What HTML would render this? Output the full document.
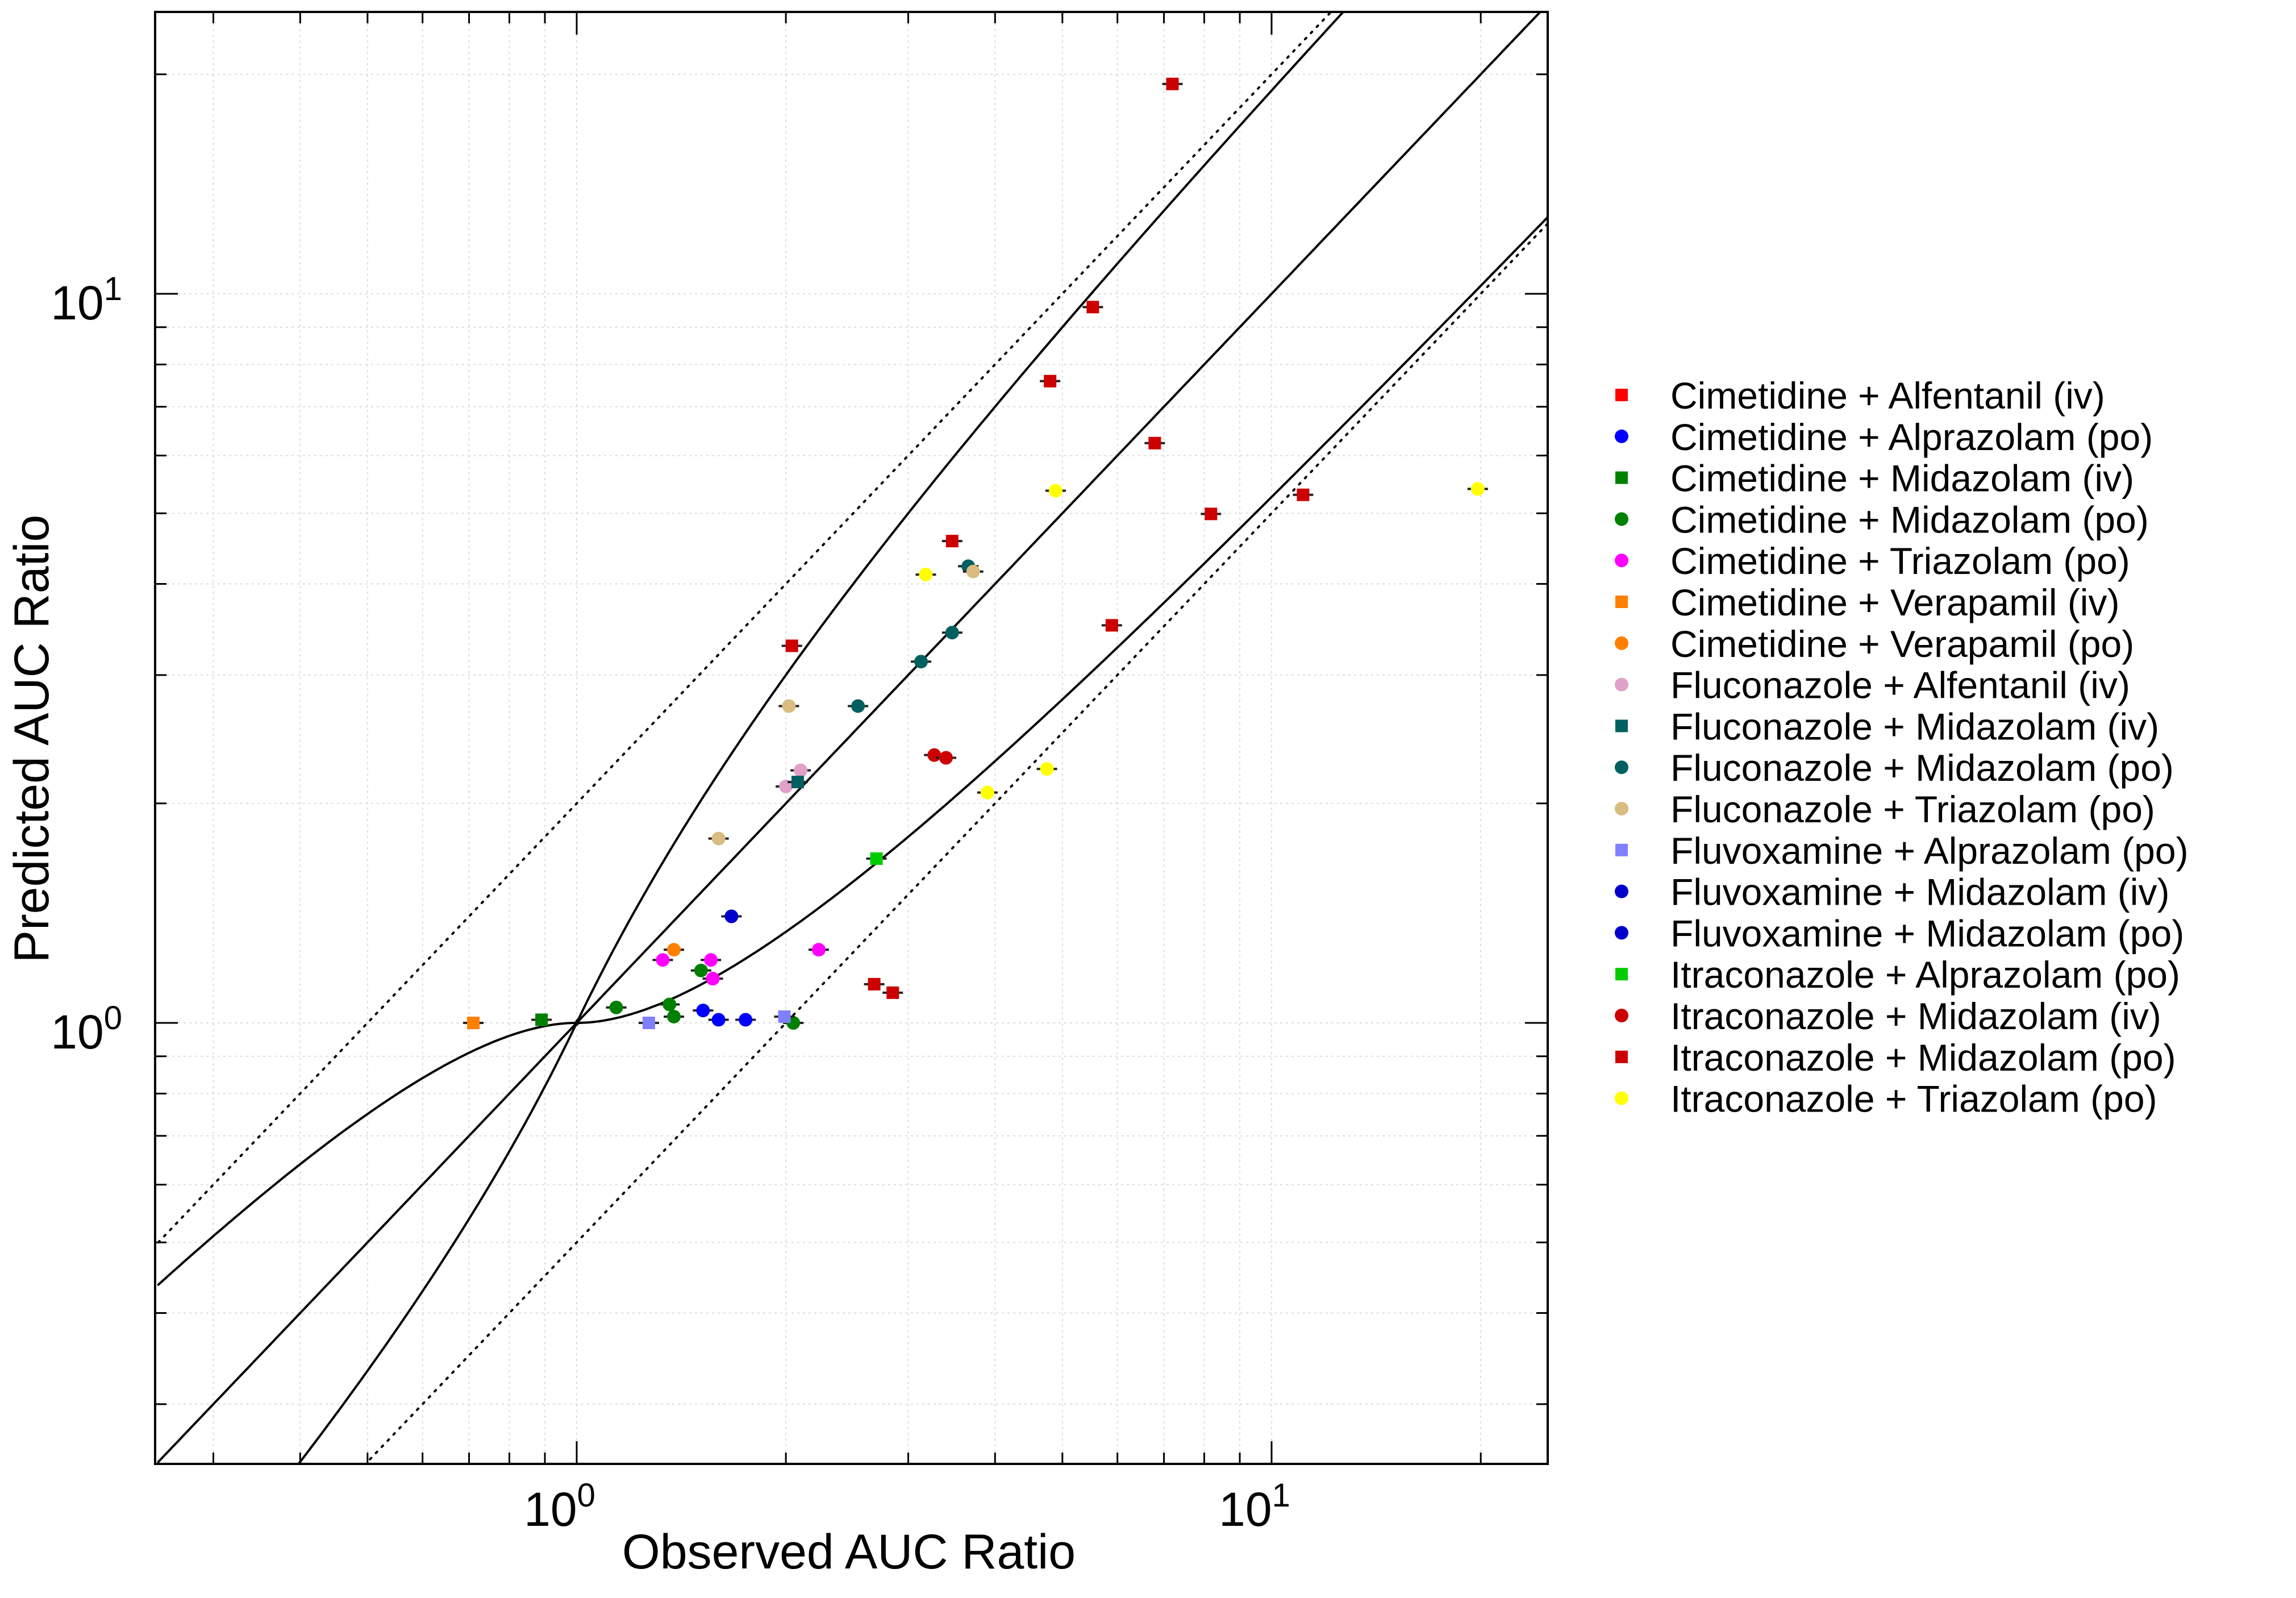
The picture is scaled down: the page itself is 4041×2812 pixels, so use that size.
<!DOCTYPE html>
<html><head><meta charset="utf-8"><style>
html,body{margin:0;padding:0;background:#fff;width:4041px;height:2812px;overflow:hidden;}
svg{display:block;font-family:"Liberation Sans","DejaVu Sans",sans-serif;}
</style></head><body>
<svg id="chart" xmlns="http://www.w3.org/2000/svg" width="4041" height="2812" viewBox="0 0 4041 2812">
<rect width="4041" height="2812" fill="#fff"/>
<g id="grid"></g>
<g id="lines"></g>
<g id="marks"></g>
<rect x="273" y="21" width="2451" height="2555" fill="none" stroke="#000" stroke-width="4"/>
<g id="ticks"></g>
<text x="1494" y="2760" font-size="86" text-anchor="middle">Observed AUC Ratio</text>
<text transform="translate(85,1300) rotate(-90)" font-size="86" text-anchor="middle">Predicted AUC Ratio</text>
<g id="legend"></g>
</svg>
<script>
const seriesNames=["Cimetidine + Alfentanil (iv)","Cimetidine + Alprazolam (po)","Cimetidine + Midazolam (iv)","Cimetidine + Midazolam (po)","Cimetidine + Triazolam (po)","Cimetidine + Verapamil (iv)","Cimetidine + Verapamil (po)","Fluconazole + Alfentanil (iv)","Fluconazole + Midazolam (iv)","Fluconazole + Midazolam (po)","Fluconazole + Triazolam (po)","Fluvoxamine + Alprazolam (po)","Fluvoxamine + Midazolam (iv)","Fluvoxamine + Midazolam (po)","Itraconazole + Alprazolam (po)","Itraconazole + Midazolam (iv)","Itraconazole + Midazolam (po)","Itraconazole + Triazolam (po)"];
const seriesColors=["#ff0000","#0000ff","#008000","#008000","#ff00ff","#ff7f00","#ff7f00","#e0a0c8","#006060","#006060","#d8bc80","#8080ff","#0000cc","#0000cc","#00cc00","#cc0000","#cc0000","#ffff00"];
const seriesShapes=["s","c","s","c","c","s","c","c","s","c","c","s","c","c","s","c","s","c"];
const obs=[
[],[1.60,1.75,1.52],[0.89],[1.14,1.36,1.38,1.51,2.05],[2.23,1.56,1.57,1.33],[0.71],[1.38],[2.00,2.10],[2.08],[3.66,3.13,2.54,3.47],[3.72,2.02,1.60],[1.27,1.99],[1.67],[],[2.70],[3.27,3.40],[7.2,5.53,4.80,6.79,8.18,11.1,3.47,5.89,2.04,2.68,2.85],[4.89,19.8,3.18,3.90,4.75]];
const pred=[
[],[1.01,1.01,1.04],[1.01],[1.05,1.06,1.02,1.18,1.00],[1.26,1.22,1.15,1.22],[1.00],[1.26],[2.11,2.22],[2.14],[4.23,3.13,2.72,3.43],[4.16,2.72,1.79],[1.00,1.02],[1.40],[],[1.68],[2.33,2.31],[19.4,9.59,7.59,6.24,4.99,5.30,4.58,3.51,3.29,1.13,1.10],[5.37,5.40,4.12,2.07,2.23]];
const xTicks=[1,10], yTicks=[1,10];
const xMin=0.25,xMax=25,yMin=0.25,yMax=25;
const L=273,R=2724,T=21,B=2576;
const X=v=>1015+Math.log10(v)*1223;
const Y=v=>1800-Math.log10(v)*1283;
const NS="http://www.w3.org/2000/svg";
function mk(tag,attrs,parent){const e=document.createElementNS(NS,tag);for(const k in attrs)e.setAttribute(k,attrs[k]);parent.appendChild(e);return e;}
const grid=document.getElementById('grid'),ticks=document.getElementById('ticks'),lines=document.getElementById('lines'),marks=document.getElementById('marks'),legend=document.getElementById('legend');
for(let d=-1;d<=1;d++){for(let m=1;m<10;m++){const v=m*Math.pow(10,d);
 if(v>=xMin&&v<=xMax){const x=X(v);
  const g=mk('line',{x1:x,x2:x,y1:T,y2:B,stroke:'#ddd','stroke-width':2,'stroke-dasharray':'4 6'},grid);
  
  const len=m===1?40:20;
  const t=mk('line',{x1:x,x2:x,y1:B,y2:B-len,stroke:'#000','stroke-width':3},ticks);
  
  const t2=mk('line',{x1:x,x2:x,y1:T,y2:T+len,stroke:'#000','stroke-width':3},ticks);
  }
 if(v>=yMin&&v<=yMax){const y=Y(v);
  const g=mk('line',{x1:L,x2:R,y1:y,y2:y,stroke:'#ddd','stroke-width':2,'stroke-dasharray':'4 6'},grid);
  
  const len=m===1?40:20;
  const t=mk('line',{x1:L,x2:L+len,y1:y,y2:y,stroke:'#000','stroke-width':3},ticks);
  
  const t2=mk('line',{x1:R,x2:R-len,y1:y,y2:y,stroke:'#000','stroke-width':3},ticks);
  }
}}
xTicks.forEach(v=>{const t=mk('text',{x:X(v)-30,y:2685,'font-size':84,'text-anchor':'middle'},ticks);
 
 t.innerHTML='10<tspan dy="-34" font-size="58">'+Math.round(Math.log10(v))+'</tspan>';});
yTicks.forEach(v=>{const t=mk('text',{x:215,y:Y(v)+45,'font-size':84,'text-anchor':'end'},ticks);
 
 t.innerHTML='10<tspan dy="-34" font-size="58">'+Math.round(Math.log10(v))+'</tspan>';});
const clip=mk('clipPath',{id:'pc'},mk('defs',{},document.getElementById('chart')));
mk('rect',{x:L,y:T,width:R-L,height:B-T},clip);
lines.setAttribute('clip-path','url(#pc)');
function curve(f,dash,name){let d='';for(let i=0;i<=400;i++){const lx=Math.log10(xMin)+i/400*(Math.log10(xMax)-Math.log10(xMin));const v=Math.pow(10,lx);const yv=f(v);d+=(i?'L':'M')+X(v).toFixed(1)+','+Y(yv).toFixed(1);}
 const p=mk('path',{d:d,fill:'none',stroke:'#000','stroke-width':4,'stroke-dasharray':dash?'3 12':'none','stroke-linecap':'round'},lines);
 }
const lim=v=>{const r=v>=1?v:1/v;return (1+2*(r-1))/r;};
curve(v=>v,false,'identity-line');
curve(v=>v*2,true,'twofold-upper-line');
curve(v=>v/2,true,'twofold-lower-line');
curve(v=>v*lim(v),false,'guest-upper-limit');
curve(v=>v/lim(v),false,'guest-lower-limit');
obs.forEach((arr,s)=>{arr.forEach((o,i)=>{const x=X(o),y=Y(pred[s][i]);
 const e=mk('line',{x1:x-18,x2:x+18,y1:y,y2:y,stroke:'#222','stroke-width':4},marks);
 
 let m;if(seriesShapes[s]==='s')m=mk('rect',{x:x-11,y:y-11,width:22,height:22,fill:seriesColors[s]},marks);
 else m=mk('circle',{cx:x,cy:y,r:12,fill:seriesColors[s]},marks);
 });});
seriesNames.forEach((n,i)=>{const y=695+i*72.8;
 let m;if(seriesShapes[i]==='s')m=mk('rect',{x:2843,y:y-11,width:22,height:22,fill:seriesColors[i]},legend);
 else m=mk('circle',{cx:2854,cy:y,r:12,fill:seriesColors[i]},legend);
 
 const t=mk('text',{x:2940,y:y+24,'font-size':66},legend);t.textContent=n;
 });
</script>
</body></html>
